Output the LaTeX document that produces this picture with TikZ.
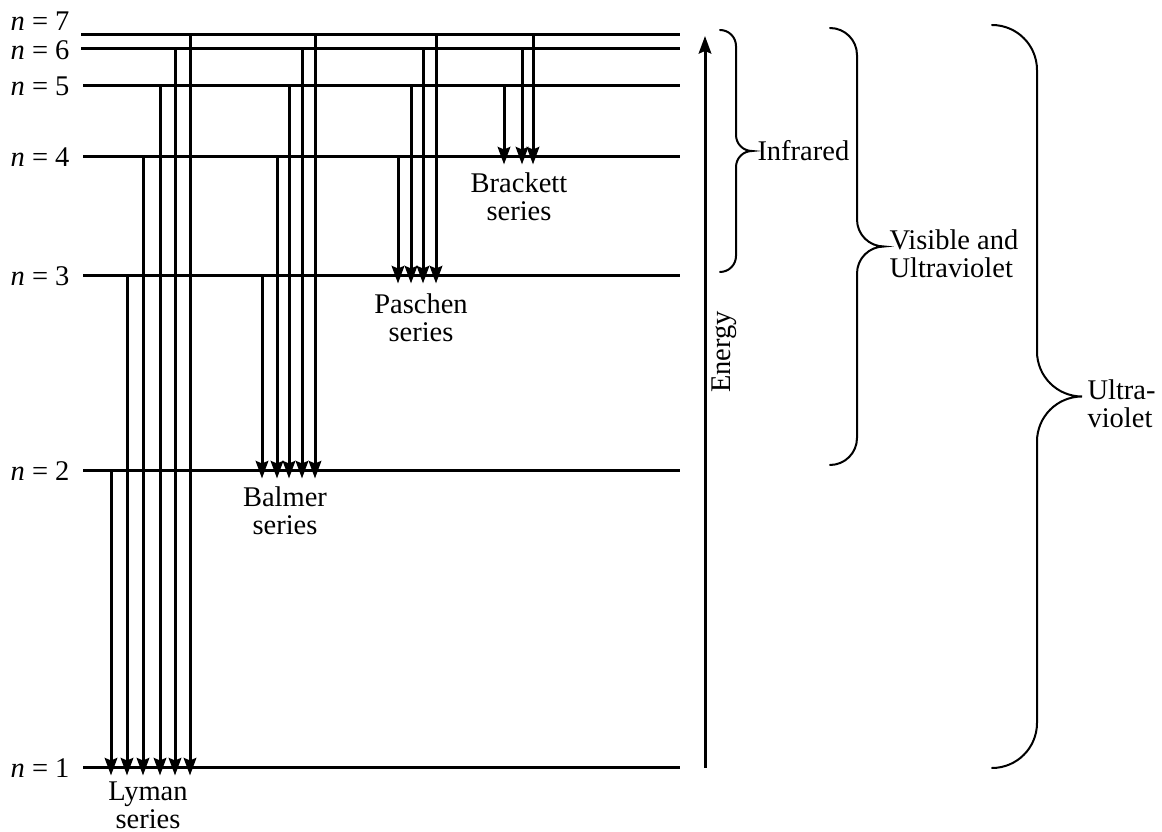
\documentclass[tikz,border=0pt]{standalone}
\usepackage{fontspec}
\setmainfont{Liberation Serif}
\usetikzlibrary{arrows.meta, positioning}

\begin{document}
\begin{tikzpicture}[
    x=0.4pt, y=0.4pt,
    font=\fontsize{11.4}{11.2}\selectfont,
    level/.style={line width=1.2pt},
    trans/.style={-{Stealth[length=7pt, width=5pt, inset=1pt]}, line width=1.2pt, shorten >=-3pt},
    brc/.style={line width=0.8pt, line cap=round},
    lbl/.style={align=center, inner sep=0pt}
]
\useasboundingbox (0,0) rectangle (1162,-832);

% energy levels
\foreach \n/\y/\xs in {1/-768/83, 2/-471/83, 3/-276/83, 4/-157/83, 5/-86/83, 6/-49/81, 7/-35/81} {
  \coordinate (L\n) at (\xs,\y);
  \coordinate (R\n) at (680,\y);
  \draw[level] (L\n) -- (R\n);
}
\foreach \n/\y in {1/-768, 2/-471, 3/-276, 4/-157, 5/-86, 6/-50, 7/-21}
  \node[anchor=east, inner sep=0pt] (n\n) at (70,\y) {\textit{n} = \n};

% Lyman series
\foreach \x/\m in {111/2, 127/3, 143/4, 160/5, 175/6, 190/7}
  \draw[trans] (\x,0 |- L\m) -- (\x,0 |- L1);
% Balmer series
\foreach \x/\m in {262/3, 277/4, 289/5, 302/6, 315/7}
  \draw[trans] (\x,0 |- L\m) -- (\x,0 |- L2);
% Paschen series
\foreach \x/\m in {398/4, 411/5, 423/6, 436/7}
  \draw[trans] (\x,0 |- L\m) -- (\x,0 |- L3);
% Brackett series
\foreach \x/\m in {504/5, 522/6, 533/7}
  \draw[trans] (\x,0 |- L\m) -- (\x,0 |- L4);

\node[lbl] (lyman) at (148,-805) {Lyman\\series};
\node[lbl] (balmer) at (285,-511) {Balmer\\series};
\node[lbl] (paschen) at (421,-318) {Paschen\\series};
\node[lbl] (brackett) at (519,-197) {Brackett\\series};

% energy axis
\coordinate (E0) at (705,-768);
\coordinate (E1) at (705,-36);
\draw[trans, shorten >=0pt] (E0) -- (E1);
\node[rotate=90, inner sep=0pt] (energy) at (724,-352) {Energy};

% braces
\foreach \x/\t/\b/\r/\nm in {720/-30/-272/16/ir, 830/-28/-465/27/vis, 992/-25/-768/45/uv} {
  \pgfmathsetmacro{\m}{(\t+\b)/2}
  \draw[brc] (\x,\t) arc[start angle=90, end angle=0, radius=\r]
    -- (\x+\r,\m+\r) arc[start angle=180, end angle=270, radius=\r]
    coordinate (tip\nm)
    arc[start angle=90, end angle=180, radius=\r]
    -- (\x+\r,\b+\r) arc[start angle=0, end angle=-90, radius=\r];
}
\node[anchor=west, inner sep=2pt] (ir) at (tipir) {Infrared};
\node[anchor=west, align=left, inner sep=2pt, yshift=-3pt] (vis) at (tipvis) {Visible and\\Ultraviolet};
\node[anchor=west, align=left, inner sep=2pt, yshift=-3pt] (uv) at (tipuv) {Ultra-\\violet};

\end{tikzpicture}
\end{document}
